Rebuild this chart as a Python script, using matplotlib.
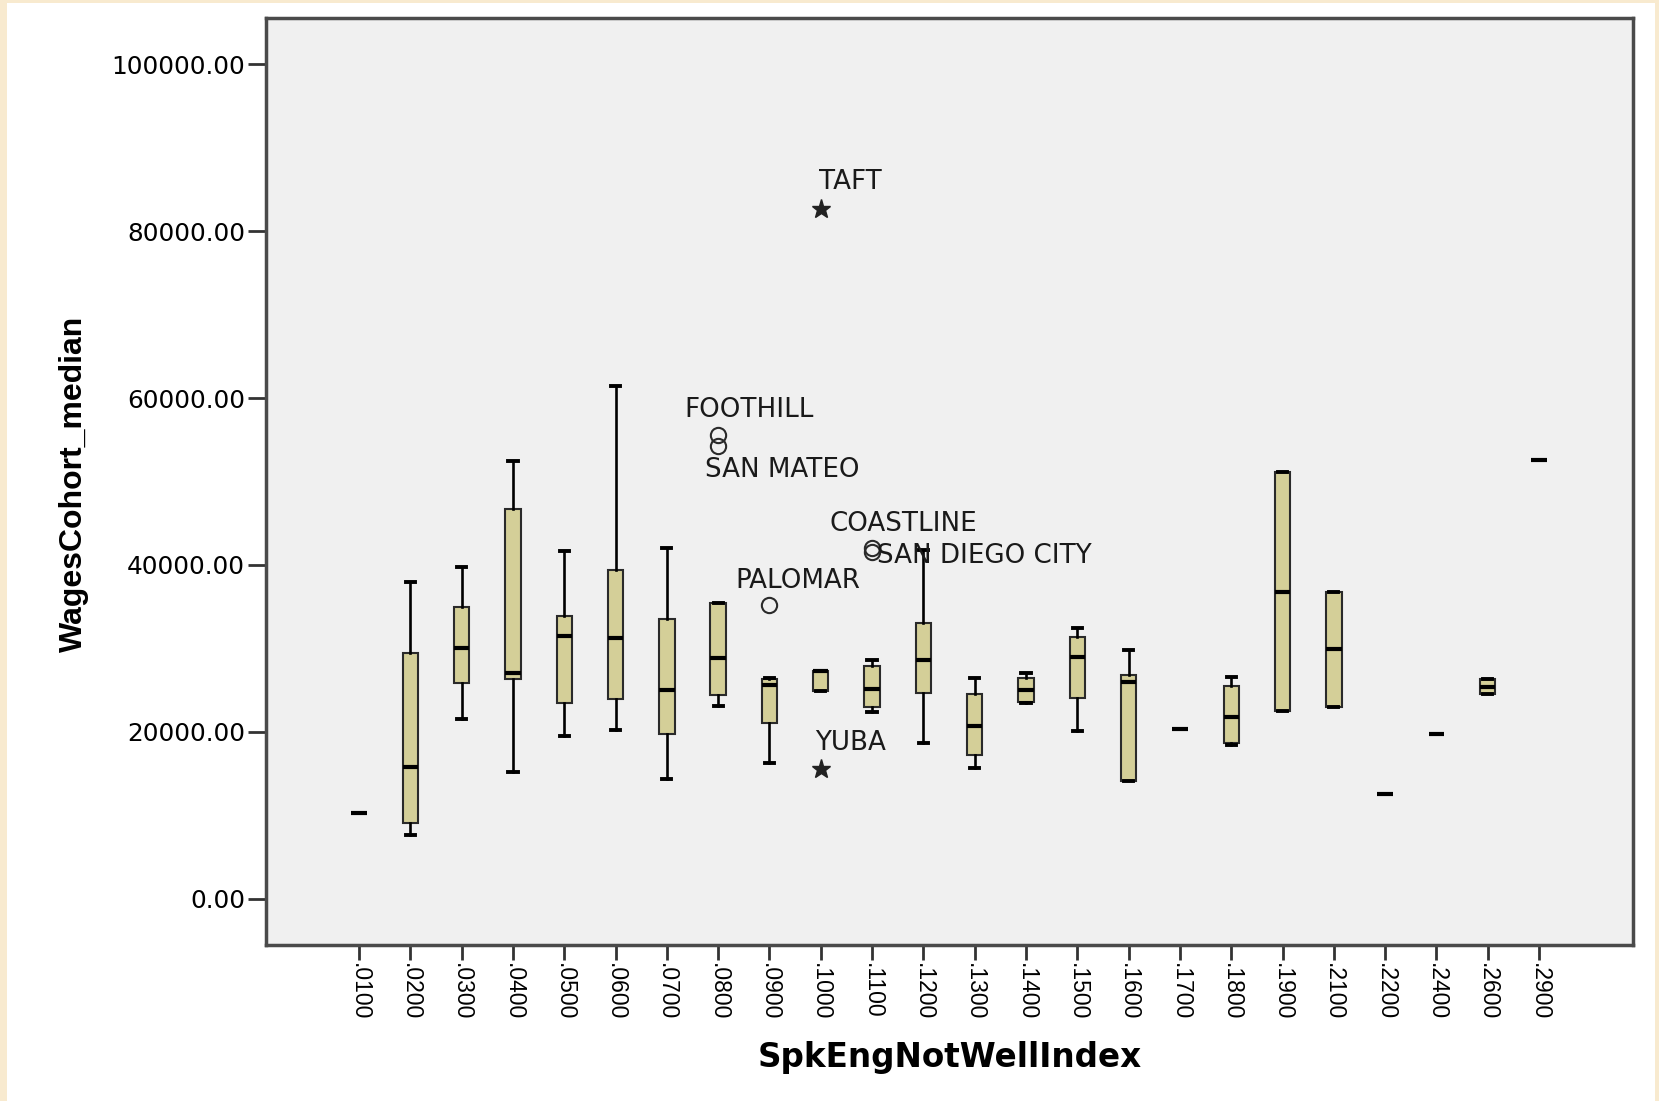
import matplotlib
matplotlib.use('Agg')
import matplotlib.pyplot as plt
from matplotlib.patches import Rectangle

plt.rcParams['font.family'] = ['DejaVu Sans']

# category labels of SpkEngNotWellIndex
categories = ['.0100', '.0200', '.0300', '.0400', '.0500', '.0600', '.0700', '.0800',
              '.0900', '.1000', '.1100', '.1200', '.1300', '.1400', '.1500', '.1600',
              '.1700', '.1800', '.1900', '.2100', '.2200', '.2400', '.2600', '.2900']

# box statistics
whislo = [10260, 7670, 21520, 15250, 19560, 20240, 14340, 23110,
          16250, 24950, 22360, 18650, 15650, 23430, 20160, 14170,
          20320, 18440, 22520, 22950, 12540, 19720, 24500, 52580]
q1 = [10260, 9070, 25830, 26310, 23430, 23920, 19720, 24430,
      21120, 24950, 22950, 24620, 17250, 23630, 24030, 14170,
      20320, 18720, 22520, 22950, 12540, 19720, 24500, 52580]
med = [10260, 15770, 30020, 27030, 31540, 31220, 25030, 28830,
       25630, 27350, 25190, 28620, 20720, 25030, 29020, 25950,
       20320, 21830, 36800, 29890, 12540, 19720, 25430, 52580]
q3 = [10260, 29500, 35010, 46710, 33930, 39400, 33490, 35410,
      26310, 27350, 27900, 33090, 24500, 26510, 31340, 26830,
      20320, 25550, 51100, 36800, 12540, 19720, 26310, 52580]
whishi = [10260, 37930, 39720, 52460, 41720, 61440, 42000, 35410,
          26500, 27350, 28620, 41800, 26510, 27100, 32420, 29820,
          20320, 26550, 51100, 36800, 12540, 19720, 26310, 52580]

# labelled outliers: name, category index, value, kind ('o' outlier, '*' extreme)
out_names = ['TAFT', 'FOOTHILL', 'SAN MATEO', 'COASTLINE', 'SAN DIEGO CITY', 'PALOMAR', 'YUBA']
out_cat = [9, 7, 7, 10, 10, 8, 9]
out_vals = [82600, 55600, 54200, 42000, 41600, 35200, 15530]
out_kind = ['*', 'o', 'o', 'o', 'o', 'o', '*']
# label offsets in pixels (text left / baseline relative to the marker)
out_offsets = [(-2, 20), (-34, 18), (-13, -31), (-43, 17), (5, -11), (-34, 17), (-6, 19)]

W, H = 1659, 1101
fig = plt.figure(figsize=(W / 100, H / 100), dpi=100)
fig.patch.set_facecolor('#F8EACF')
fig.add_artist(Rectangle((7 / W, 0), (1655 - 7) / W, 1 - 3 / H, transform=fig.transFigure,
                         facecolor='white', edgecolor='none', zorder=0))

ax = fig.add_axes([266 / W, 1 - 945 / H, (1633 - 266) / W, (945 - 18) / H])
ax.set_facecolor('#F0F0F0')

stats = []
for i in range(len(categories)):
    stats.append(dict(whislo=whislo[i], q1=q1[i], med=med[i], q3=q3[i], whishi=whishi[i],
                      fliers=[], label=categories[i]))

pos = list(range(len(categories)))
ax.bxp(stats, positions=pos, widths=0.3, capwidths=0.18, patch_artist=True, showfliers=False,
       boxprops=dict(facecolor='#D4CF98', edgecolor='#2a2a2a', linewidth=1.5),
       medianprops=dict(color='black', linewidth=3),
       whiskerprops=dict(color='black', linewidth=1.9),
       capprops=dict(color='black', linewidth=2.8))

for name, c, v, k, (dx, dy) in zip(out_names, out_cat, out_vals, out_kind, out_offsets):
    if k == 'o':
        ax.plot(c, v, marker='o', markersize=11, markerfacecolor='none',
                markeredgecolor='#2a2a2a', markeredgewidth=1.5, linestyle='none')
    else:
        ax.plot(c, v, marker='*', markersize=14, color='#222222', linestyle='none')
    ax.annotate(name, (c, v), xytext=(dx, dy), textcoords='offset pixels',
                ha='left', va='baseline', fontsize=18.8, color='#1a1a1a')

ax.set_xlim(-1.813, 24.83)
ax.set_ylim(-5510, 105510)
ax.set_xticks(pos)
ax.set_xticklabels(categories, rotation=-90, family='Liberation Sans', fontsize=16.5)
ax.set_yticks([0, 20000, 40000, 60000, 80000, 100000])
ax.set_yticklabels(['%.2f' % v for v in [0, 20000, 40000, 60000, 80000, 100000]], fontsize=17.8)
ax.tick_params(axis='y', direction='out', length=13, width=2, color='#333333', pad=2)
ax.tick_params(axis='x', direction='out', length=11, width=2, color='#333333', pad=2)
for s in ax.spines.values():
    s.set_color('#4a4a4a')
    s.set_linewidth(2.5)

fig.text(74 / W, 1 - 483.5 / H, 'WagesCohort_median', rotation=90, ha='center', va='center',
         family='Liberation Sans', fontweight='bold', fontsize=23)
fig.text(949.5 / W, 1 - 1057 / H, 'SpkEngNotWellIndex', ha='center', va='center',
         fontweight='bold', fontsize=23.5)

fig.savefig('out.png', dpi=100)
